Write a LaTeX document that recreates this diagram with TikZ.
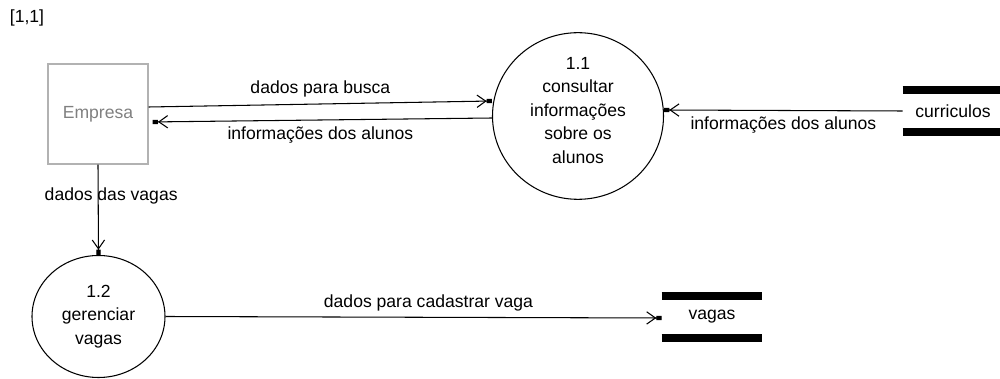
\documentclass[tikz,border=0pt]{standalone}
\usepackage{fontspec}
\setmainfont{Liberation Sans}
\usetikzlibrary{positioning, shapes.geometric, arrows.meta}

\begin{document}
\begin{tikzpicture}[x=0.2mm, y=-0.2mm, font=\fontsize{10}{13.4}\selectfont,
  flow/.style={-{Straight Barb[length=5pt,width=7pt] Rectangle[length=3pt,width=2.4pt]}, line width=0.6pt},
  proc/.style={ellipse, draw, line width=0.6pt, align=center, inner sep=0pt},
  entity/.style={rectangle, draw=gray!60, line width=0.8pt, text=gray, minimum size=2cm},
  store/.style={minimum width=2cm, minimum height=0.84cm}]

\useasboundingbox (0,0) rectangle (1000,379);

% Tag
\node (tag) at (27,18) {[1,1]};

% Entity and processes
\node[entity] (empresa) at (98,114) {Empresa};
\node[proc, minimum width=3.42cm, minimum height=2.9cm] (consultar) at (578,116) {1.1\\consultar\\informações\\sobre os\\alunos\\[-0.24cm]};
\node[proc, minimum width=2.66cm, minimum height=2.44cm] (gerenciar) at (98.5,316.5) {1.2\\gerenciar\\vagas};

% Data stores
\node[store] (curriculos) at (953,111) {curriculos};
\node[store] (vagas) at (712,317) {vagas};
\foreach \s in {curriculos, vagas} {
  \draw[line width=0.16cm] (\s.north west) -- (\s.north east);
  \draw[line width=0.16cm] (\s.south west) -- (\s.south east);
}

% Flows
\draw[flow] ([yshift=0.14cm]empresa.east) -- node[above] {dados para busca} ([yshift=0.3cm]consultar.west);
\draw[flow, shorten >=0.08cm] ([yshift=-0.04cm]consultar.west) -- node[below] {informações dos alunos} ([yshift=-0.16cm]empresa.east);
\draw[flow] (curriculos.west) -- node[below] {informações dos alunos} ([yshift=0.12cm]consultar.east);
\draw[flow] (empresa.south) -- node[pos=0.35, xshift=0.26cm] {dados das vagas} (gerenciar.north);
\draw[flow] (gerenciar.east) -- node[above, pos=0.53] {dados para cadastrar vaga} ([yshift=-0.02cm]vagas.west);

\end{tikzpicture}
\end{document}
